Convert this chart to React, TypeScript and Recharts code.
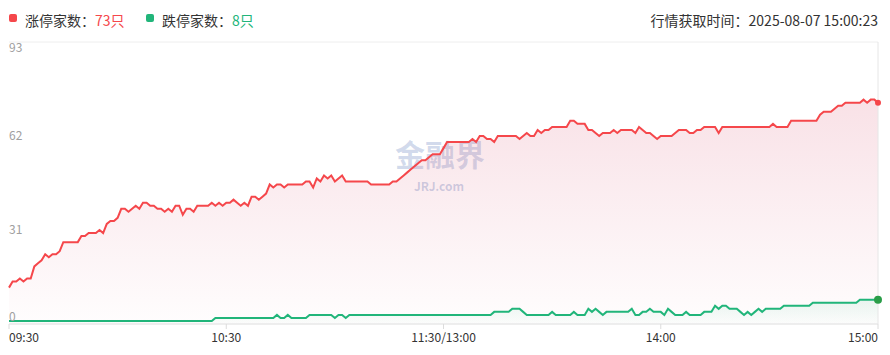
import React from "react"
import { Area, AreaChart, CartesianGrid, ReferenceLine, XAxis, YAxis } from "recharts"

// minute index from 09:30 (0) to 15:00 (240), lunch break skipped
const tickMinutes = [0, 60, 120, 180, 240]
const tickLabels = ["09:30", "10:30", "11:30/13:00", "14:00", "15:00"]
const yTicks = [0, 31, 62, 93]

// 涨停家数 per minute
const limitUp = [
  12, 14, 14, 15, 14, 15, 15, 19, 20, 21,
  23, 22, 23, 23, 24, 27, 27, 27, 27, 27,
  29, 29, 30, 30, 30, 31, 30, 33, 34, 34,
  35, 38, 38, 37, 38, 39, 38, 40, 40, 39,
  39, 38, 38, 37, 38, 37, 39, 39, 36, 38,
  38, 37, 39, 39, 39, 39, 40, 39, 40, 39,
  40, 40, 41, 40, 39, 40, 39, 42, 42, 41,
  42, 43, 46, 45, 46, 46, 45, 46, 46, 46,
  46, 46, 47, 47, 45, 48, 47, 49, 48, 49,
  47, 48, 49, 47, 47, 47, 47, 47, 47, 47,
  46, 46, 46, 46, 46, 46, 47, 47, 48, 49,
  50, 51, 52, 53, 54, 54, 55, 56, 56, 56,
  58, 60, 60, 60, 60, 60, 60, 60, 61, 60,
  62, 62, 61, 61, 60, 62, 62, 62, 62, 62,
  62, 61, 62, 63, 62, 62, 64, 63, 64, 64,
  65, 65, 65, 65, 65, 67, 67, 66, 66, 66,
  64, 64, 63, 62, 63, 63, 63, 64, 63, 64,
  64, 64, 64, 63, 65, 64, 63, 63, 62, 61,
  62, 62, 62, 62, 63, 64, 64, 64, 63, 63,
  64, 64, 65, 65, 65, 65, 63, 65, 65, 65,
  65, 65, 65, 65, 65, 65, 65, 65, 65, 65,
  65, 66, 65, 65, 65, 65, 67, 67, 67, 67,
  67, 67, 67, 67, 69, 70, 70, 70, 71, 72,
  72, 73, 73, 73, 73, 73, 74, 73, 74, 74,
  73,
]

// 跌停家数 per minute
const limitDown = [
  1, 1, 1, 1, 1, 1, 1, 1, 1, 1,
  1, 1, 1, 1, 1, 1, 1, 1, 1, 1,
  1, 1, 1, 1, 1, 1, 1, 1, 1, 1,
  1, 1, 1, 1, 1, 1, 1, 1, 1, 1,
  1, 1, 1, 1, 1, 1, 1, 1, 1, 1,
  1, 1, 1, 1, 1, 1, 1, 2, 2, 2,
  2, 2, 2, 2, 2, 2, 2, 2, 2, 2,
  2, 2, 2, 2, 3, 2, 2, 3, 2, 2,
  2, 2, 2, 3, 3, 3, 3, 3, 3, 3,
  2, 3, 3, 2, 3, 3, 3, 3, 3, 3,
  3, 3, 3, 3, 3, 3, 3, 3, 3, 3,
  3, 3, 3, 3, 3, 3, 3, 3, 3, 3,
  3, 3, 3, 3, 3, 3, 3, 3, 3, 3,
  3, 3, 3, 3, 4, 4, 4, 4, 4, 5,
  5, 5, 4, 3, 3, 3, 3, 3, 3, 3,
  4, 3, 3, 3, 3, 3, 4, 3, 3, 3,
  5, 4, 5, 4, 3, 4, 4, 4, 4, 4,
  4, 4, 5, 3, 3, 4, 4, 5, 4, 4,
  4, 3, 5, 4, 3, 3, 3, 4, 3, 3,
  3, 3, 4, 4, 4, 6, 5, 6, 6, 5,
  5, 5, 4, 3, 4, 3, 4, 5, 4, 5,
  5, 5, 5, 5, 6, 6, 6, 6, 6, 6,
  6, 6, 7, 7, 7, 7, 7, 7, 7, 7,
  7, 7, 7, 7, 7, 8, 8, 8, 8, 8,
  8,
]

const upCount = 73
const downCount = 8
const fetchTime = "2025-08-07 15:00:23"

const RED = "#f5474b"
const GREEN = "#21b57a"
const FONT = '"Noto Sans CJK SC", "Microsoft YaHei", sans-serif'

const data = limitUp.map((v, i) => ({ m: i, up: v, down: limitDown[i] }))
const last = data.length - 1

const XTick = ({ x, y, payload }: any) => {
  const i = tickMinutes.indexOf(payload.value)
  const anchor = i === 0 ? "start" : i === tickLabels.length - 1 ? "end" : "middle"
  return (
    <text x={x} y={y} dy={10.5} textAnchor={anchor} fill="#333" fontSize={12} fontFamily={FONT}>
      {tickLabels[i]}
    </text>
  )
}

// y labels sit inside the plot, on the left edge of each grid line
const YLabel = ({ viewBox, value }: any) => {
  const dy = value === 93 ? 9.5 : value === 0 ? -3 : 4
  return (
    <text x={viewBox.x} y={viewBox.y} dy={dy} textAnchor="start" fill="#a0a0a0" fontSize={12} fontFamily={FONT}>
      {value}
    </text>
  )
}

const endDot = (color: string, r: number) => (props: any) => {
  if (props.index !== last) return <g key={props.index} />
  return <circle key={props.index} cx={props.cx} cy={props.cy} r={r} fill={color} />
}

export default function App() {
  return (
    <div style={{ position: "relative", width: 890, height: 355, fontFamily: FONT, background: "#fff" }}>
      <style>{`body{margin:0}`}</style>

      {/* legend */}
      <div style={{ position: "absolute", left: 9, top: 14, width: 8, height: 8, borderRadius: 2, background: RED }} />
      <div style={{ position: "absolute", left: 25, top: 10, height: 20, lineHeight: "20px", fontSize: 14, color: "#333", whiteSpace: "nowrap" }}>
        涨停家数：<span style={{ color: RED }}>{upCount}只</span>
      </div>
      <div style={{ position: "absolute", left: 146, top: 14, width: 8, height: 8, borderRadius: 2, background: GREEN }} />
      <div style={{ position: "absolute", left: 162, top: 10, height: 20, lineHeight: "20px", fontSize: 14, color: "#333", whiteSpace: "nowrap" }}>
        跌停家数：<span style={{ color: GREEN }}>{downCount}只</span>
      </div>
      <div style={{ position: "absolute", right: 12, top: 10, height: 20, lineHeight: "20px", fontSize: 14, color: "#333", whiteSpace: "nowrap" }}>
        行情获取时间：{fetchTime}
      </div>

      {/* watermark */}
      <div style={{ position: "absolute", left: 395, top: 136, height: 34, lineHeight: "34px", fontSize: 30, fontWeight: 700, color: "rgba(50,90,170,0.22)", whiteSpace: "nowrap" }}>
        金融界
      </div>
      <div style={{ position: "absolute", left: 414, top: 179, height: 13, lineHeight: "13px", fontSize: 12, fontWeight: 700, color: "rgba(50,90,170,0.26)", whiteSpace: "nowrap" }}>
        JRJ.com
      </div>

      <div style={{ position: "absolute", left: 0, top: 0 }}>
        <AreaChart width={890} height={355} data={data} margin={{ top: 42, right: 12, bottom: 0, left: 9 }}>
          <defs>
            <linearGradient id="upFill" x1="0" y1="0" x2="0" y2="1">
              <stop offset="0%" stopColor="#dc5a78" stopOpacity={0.3} />
              <stop offset="100%" stopColor="#dc5a78" stopOpacity={0.02} />
            </linearGradient>
            <linearGradient id="downFill" x1="0" y1="0" x2="0" y2="1">
              <stop offset="0%" stopColor={GREEN} stopOpacity={0.16} />
              <stop offset="100%" stopColor={GREEN} stopOpacity={0.02} />
            </linearGradient>
          </defs>
          <CartesianGrid vertical={false} stroke="#eeeeee" />
          <XAxis
            dataKey="m"
            type="number"
            domain={[0, 240]}
            ticks={tickMinutes}
            interval={0}
            height={31}
            axisLine={{ stroke: "#e6e6e6" }}
            tickLine={{ stroke: "#dcdcdc" }}
            tickSize={5}
            tickMargin={2}
            tick={<XTick />}
          />
          <YAxis
            type="number"
            domain={[0, 93]}
            ticks={yTicks}
            width={0}
            axisLine={{ stroke: "#e6e6e6" }}
            tickLine={false}
            tick={false}
          />
          <ReferenceLine x={240} stroke="#e6e6e6" />
          {yTicks.map((v) => (
            <ReferenceLine key={v} y={v} stroke="none" label={<YLabel value={v} />} />
          ))}
          <Area
            type="linear"
            dataKey="up"
            stroke={RED}
            strokeWidth={2}
            fill="url(#upFill)"
            dot={endDot(RED, 3)}
            activeDot={false}
            isAnimationActive={false}
          />
          <Area
            type="linear"
            dataKey="down"
            stroke={GREEN}
            strokeWidth={2}
            fill="url(#downFill)"
            dot={endDot("#2a9d48", 4)}
            activeDot={false}
            isAnimationActive={false}
          />
        </AreaChart>
      </div>
    </div>
  )
}
